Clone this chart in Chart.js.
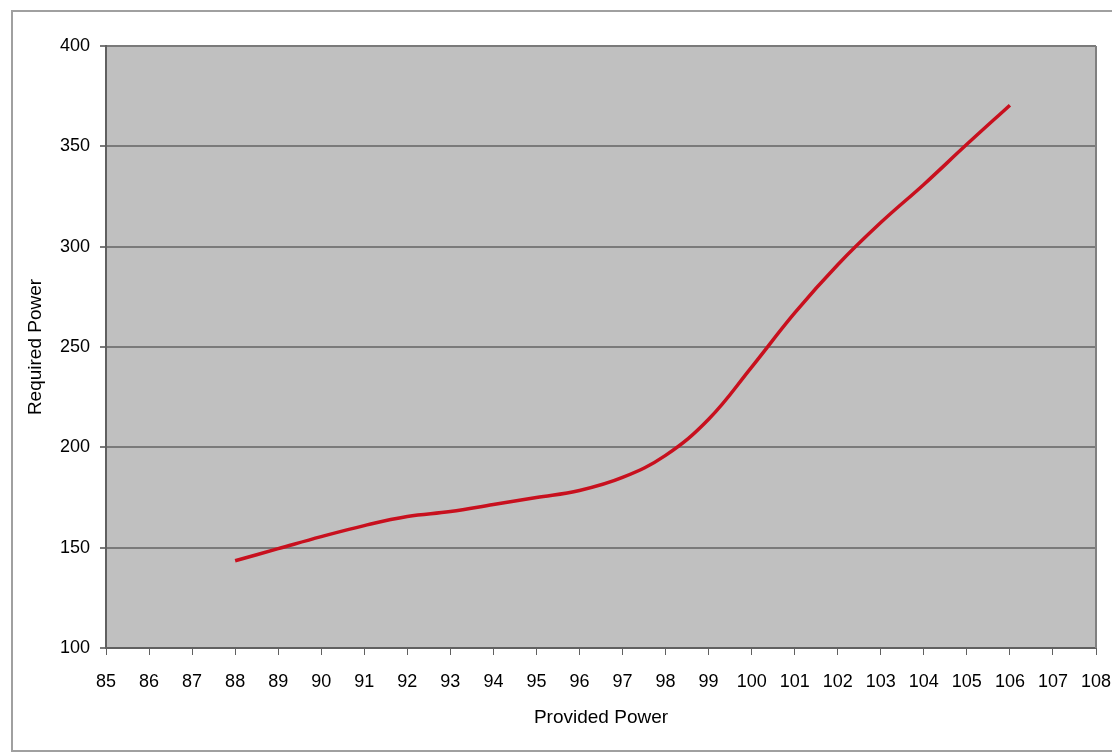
<!DOCTYPE html>
<html>
<head>
<meta charset="utf-8">
<script src="https://cdn.jsdelivr.net/npm/chart.js@4.4.1/dist/chart.umd.min.js"></script>
<style>
  html, body { margin: 0; padding: 0; background: #fff; }
  #wrap { width: 1112px; height: 753px; position: relative; }
</style>
</head>
<body>
<div id="wrap"><canvas id="powerChart"></canvas></div>
<script>
// values
const providedPower = [88, 89, 90, 91, 92, 93, 94, 95, 96, 97, 98, 99, 100, 101, 102, 103, 104, 105, 106];
const requiredPower = [143.5, 149.5, 155.5, 161, 165.5, 168, 171.5, 175, 178.5, 185, 196, 214, 240, 267, 291, 312, 331, 351, 370.5];
const xTickRange = [85, 108];
const yTickRange = [100, 400];

const points = providedPower.map((x, i) => ({ x: x, y: requiredPower[i] }));

// white page, outer frame and grey plot area
const backdrop = {
  id: 'backdrop',
  beforeDraw(chart) {
    const { ctx, chartArea: a } = chart;
    ctx.save();
    ctx.fillStyle = '#fff';
    ctx.fillRect(0, 0, chart.width, chart.height);
    ctx.strokeStyle = '#a0a0a0';
    ctx.lineWidth = 2;
    ctx.strokeRect(12, 11, 1110, 740);
    ctx.fillStyle = '#c0c0c0';
    ctx.fillRect(a.left, a.top, a.right - a.left, a.bottom - a.top);
    ctx.restore();
  },
  beforeDatasetsDraw(chart) {
    const { ctx, chartArea: a } = chart;
    ctx.save();
    ctx.strokeStyle = '#808080';
    ctx.lineWidth = 2;
    ctx.beginPath();
    ctx.moveTo(a.right, a.top);
    ctx.lineTo(a.right, a.bottom);
    ctx.stroke();
    ctx.restore();
  }
};

const font = { family: '"Liberation Sans", Arial, sans-serif', size: 18 };

new Chart(document.getElementById('powerChart'), {
  type: 'line',
  data: {
    datasets: [{
      data: points,
      borderColor: '#c8101e',
      borderWidth: 3.5,
      pointRadius: 0,
      tension: 0.4,
      fill: false
    }]
  },
  options: {
    responsive: true,
    maintainAspectRatio: false,
    animation: false,
    layout: { padding: { left: 12, top: 46, right: 0, bottom: 14 } },
    plugins: {
      legend: { display: false },
      tooltip: { enabled: false }
    },
    scales: {
      x: {
        type: 'linear',
        min: xTickRange[0],
        max: xTickRange[1],
        afterFit(scale) { scale.height = 91; scale.paddingRight = 16; },
        ticks: { stepSize: 1, color: '#000', font: font, padding: 16, maxRotation: 0, autoSkip: false },
        grid: { drawOnChartArea: false, drawTicks: true, tickLength: 7, color: '#606060', lineWidth: 1 },
        border: { display: true, color: '#606060', width: 2 },
        title: {
          display: true,
          text: 'Provided Power',
          color: '#000',
          font: { family: font.family, size: 19 },
          padding: { top: 4, bottom: 10 }
        }
      },
      y: {
        min: yTickRange[0],
        max: yTickRange[1],
        afterFit(scale) { scale.width = 94; },
        ticks: { stepSize: 50, color: '#000', font: font, padding: 10 },
        grid: { color: '#7a7a7a', lineWidth: 2, drawTicks: true, tickLength: 6 },
        border: { display: true, color: '#606060', width: 2 },
        title: {
          display: true,
          text: 'Required Power',
          color: '#000',
          font: { family: font.family, size: 19 },
          padding: { top: 12, bottom: 0 }
        }
      }
    }
  },
  plugins: [backdrop]
});
</script>
</body>
</html>
